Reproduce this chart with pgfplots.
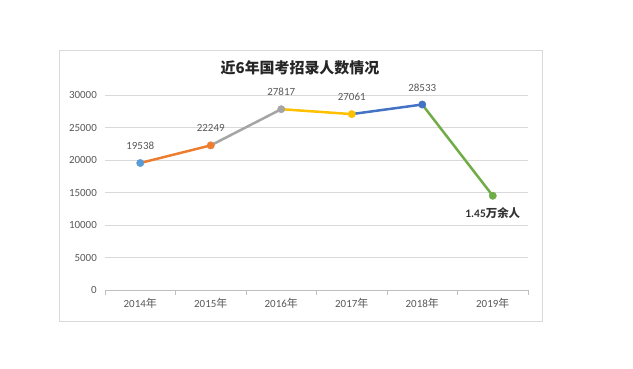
\documentclass[border=0pt]{standalone}
\usepackage{pgfplots}
\pgfplotsset{compat=1.18}
\usepackage{fontspec}
\setmainfont{Carlito}
\newfontfamily\cjk{Noto Sans CJK SC}
\definecolor{txt}{HTML}{595959}
\definecolor{gridc}{HTML}{D9D9D9}
\definecolor{axc}{HTML}{BFBFBF}
\definecolor{frame}{HTML}{D9D9D9}
\definecolor{cblue}{HTML}{5B9BD5}
\definecolor{corange}{HTML}{ED7D31}
\definecolor{cgray}{HTML}{A5A5A5}
\definecolor{cgold}{HTML}{FFC000}
\definecolor{cdblue}{HTML}{4472C4}
\definecolor{cgreen}{HTML}{70AD47}
\begin{document}
\begin{tikzpicture}
\path[use as bounding box, fill=white] (-105bp,-79bp) rectangle (528bp,290bp);
\draw[frame, line width=0.75bp, fill=white] (-46bp,-31bp) rectangle (437bp,240bp);
\begin{axis}[
  at={(0,0)}, anchor=south west,
  scale only axis, width=423bp, height=195bp,
  xmin=-0.5, xmax=5.5, ymin=0, ymax=30000,
  axis lines*=left,
  y axis line style={draw=none},
  x axis line style={draw=axc, line width=0.75bp},
  xtick={0,1,2,3,4,5},
  xticklabels={2014{\cjk 年},2015{\cjk 年},2016{\cjk 年},2017{\cjk 年},2018{\cjk 年},2019{\cjk 年}},
  minor xtick={-0.5,0.5,1.5,2.5,3.5,4.5,5.5},
  major tick length=0pt,
  minor tick length=5bp,
  tick align=outside,
  minor x tick style={draw=axc, line width=0.75bp},
  ytick={0,5000,...,30000},
  scaled y ticks=false,
  ymajorgrids, major grid style={draw=gridc, line width=0.75bp},
  ytick style={draw=none},
  /pgf/number format/assume math mode=true,
  /pgf/number format/1000 sep={},
  ticklabel style={font=\fontsize{11}{13}\selectfont, text=txt},
  yticklabel style={inner sep=0pt, xshift=-8bp},
  xticklabel style={inner sep=0pt, yshift=-8bp},
  clip=false,
  every axis plot/.append style={mark size=3.7bp, mark options={solid, line width=0.4bp}},
]
\addplot[corange, line width=2.5bp, mark=*, mark indices={2}] coordinates {(0,19538) (1,22249)};
\addplot[cgray, line width=2.5bp, mark=*, mark indices={2}] coordinates {(1,22249) (2,27817)};
\addplot[cgold, line width=2.5bp, mark=*, mark indices={2}] coordinates {(2,27817) (3,27061)};
\addplot[cdblue, line width=2.5bp, mark=*, mark indices={2}] coordinates {(3,27061) (4,28533)};
\addplot[cgreen, line width=2.5bp, mark=*, mark indices={2}] coordinates {(4,28533) (5,14500)};
\addplot[cblue, only marks, mark=*] coordinates {(0,19538)};
\addplot[draw=none, mark=none, nodes near coords, point meta=explicit symbolic,
  nodes near coords style={anchor=center, yshift=17bp, text=txt, font=\fontsize{11}{13}\selectfont}]
  table[meta=label] {
x y label
0 19538 19538
1 22249 22249
2 27817 27817
3 27061 27061
4 28533 28533
};
\addplot[draw=none, mark=none, nodes near coords, point meta=explicit symbolic,
  nodes near coords style={anchor=center, yshift=-17bp, text=black!80, font=\bfseries\fontsize{11.5}{13}\selectfont}]
  table[meta=label] {
x y label
5 14500 {1.45{\cjk\bfseries 万余人}}
};
\end{axis}
\node[font=\cjk\bfseries\fontsize{15}{18}\selectfont, text=black!85] at (195bp,222bp) {近6年国考招录人数情况};
\end{tikzpicture}
\end{document}
